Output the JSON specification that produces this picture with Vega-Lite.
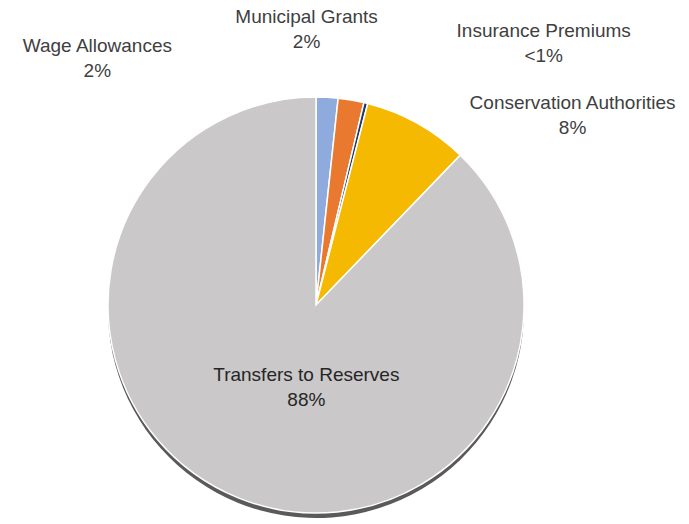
{
  "$schema": "https://vega.github.io/schema/vega-lite/v6.json",
  "width": 416,
  "height": 416,
  "autosize": {"type": "none"},
  "padding": {"left": 108, "top": 97, "right": 165, "bottom": 11},
  "background": "white",
  "config": {"view": {"stroke": null}, "text": {"font": "Liberation Sans"}},
  "data": {
    "values": [
      {"order": 1, "name": "Wage Allowances", "pct": "2%", "value": 1.7},
      {"order": 2, "name": "Municipal Grants", "pct": "2%", "value": 2.0},
      {"order": 3, "name": "Insurance Premiums", "pct": "<1%", "value": 0.3},
      {"order": 4, "name": "Conservation Authorities", "pct": "8%", "value": 8.2},
      {"order": 5, "name": "Transfers to Reserves", "pct": "88%", "value": 87.8}
    ]
  },
  "transform": [
    {"stack": "value", "groupby": [], "sort": [{"field": "order", "order": "ascending"}], "as": ["v0", "v1"]},
    {"calculate": "(datum.v0 + datum.v1) / 2", "as": "mid"},
    {"calculate": "datum.name + '\\n' + datum.pct", "as": "label"}
  ],
  "layer": [
    {
      "mark": {"type": "arc", "yOffset": 5, "stroke": null},
      "encoding": {
        "theta": {"field": "v0", "type": "quantitative", "scale": {"domain": [0, 100]}},
        "theta2": {"field": "v1"},
        "color": {"value": "#5a5a5a"}
      }
    },
    {
      "mark": {"type": "arc", "stroke": "white", "strokeWidth": 1.5},
      "encoding": {
        "theta": {"field": "v0", "type": "quantitative", "scale": {"domain": [0, 100]}},
        "theta2": {"field": "v1"},
        "color": {
          "field": "name",
          "type": "nominal",
          "legend": null,
          "scale": {
            "domain": ["Wage Allowances", "Municipal Grants", "Insurance Premiums", "Conservation Authorities", "Transfers to Reserves"],
            "range": ["#8FAADC", "#E8792F", "#1F3864", "#F4B900", "#CAC8C9"]
          }
        }
      }
    },
    {
      "transform": [{"filter": "datum.name === 'Wage Allowances'"}],
      "mark": {"type": "text", "radius": 250, "dx": -232, "dy": -9, "fontSize": 19, "lineBreak": "\n", "lineHeight": 25, "fill": "#404040"},
      "encoding": {"theta": {"field": "mid", "type": "quantitative", "stack": null, "scale": {"domain": [0, 100]}}, "text": {"field": "label"}}
    },
    {
      "transform": [{"filter": "datum.name === 'Municipal Grants'"}],
      "mark": {"type": "text", "radius": 270, "dx": -55, "dy": -22, "fontSize": 19, "lineBreak": "\n", "lineHeight": 25, "fill": "#404040"},
      "encoding": {"theta": {"field": "mid", "type": "quantitative", "stack": null, "scale": {"domain": [0, 100]}}, "text": {"field": "label"}}
    },
    {
      "transform": [{"filter": "datum.name === 'Insurance Premiums'"}],
      "mark": {"type": "text", "radius": 270, "dx": 163, "dy": -12, "fontSize": 19, "lineBreak": "\n", "lineHeight": 25, "fill": "#404040"},
      "encoding": {"theta": {"field": "mid", "type": "quantitative", "stack": null, "scale": {"domain": [0, 100]}}, "text": {"field": "label"}}
    },
    {
      "transform": [{"filter": "datum.name === 'Conservation Authorities'"}],
      "mark": {"type": "text", "radius": 270, "dx": 125, "dy": 34, "fontSize": 19, "lineBreak": "\n", "lineHeight": 25, "fill": "#404040"},
      "encoding": {"theta": {"field": "mid", "type": "quantitative", "stack": null, "scale": {"domain": [0, 100]}}, "text": {"field": "label"}}
    },
    {
      "transform": [{"filter": "datum.name === 'Transfers to Reserves'"}],
      "mark": {"type": "text", "radius": 90, "dx": 24, "dy": -13, "fontSize": 19, "lineBreak": "\n", "lineHeight": 25, "fill": "#262626"},
      "encoding": {"theta": {"field": "mid", "type": "quantitative", "stack": null, "scale": {"domain": [0, 100]}}, "text": {"field": "label"}}
    }
  ]
}
